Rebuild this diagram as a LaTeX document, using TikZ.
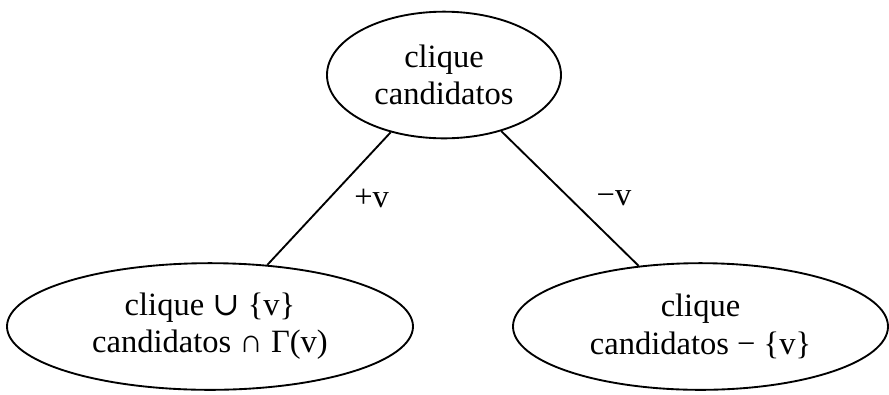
\documentclass[tikz,border=0pt]{standalone}
\usepackage{fontspec}
\setmainfont{Liberation Serif}
\newfontfamily\symfont{DejaVu Serif}
\usepackage{tikz}
\usetikzlibrary{shapes.geometric, positioning}

\begin{document}
\begin{tikzpicture}[
    x=0.75pt, y=-0.75pt,
    every node/.style = {font=\fontsize{24.4}{28}\selectfont},
    base/.style = {
        ellipse, draw, line width=1.4pt, inner sep=0pt,
        text centered, align=center, minimum height=95pt
    },
    root/.style   = {base, minimum width=175.5pt},
    addv/.style   = {base, minimum width=304.5pt},
    dropv/.style  = {base, minimum width=281.25pt},
    edgelabel/.style = {midway, anchor=west},
    link/.style = {line width=1.4pt, black}
]
\useasboundingbox (0,0) rectangle (889,394);
\node[root]  (top)   at (444,75)    {clique\\candidatos};
\node[addv]  (left)  at (210,326.5) {clique {\symfont ∪} \{v\}\\candidatos ∩ Γ(v)};
\node[dropv] (right) at (700.5,326.5) {clique\\candidatos − \{v\}};
\draw[link] (top) -- (left)  node[edgelabel, xshift=15pt] (plus)  {+v};
\draw[link] (top) -- (right) node[edgelabel, xshift=16pt] (minus) {−v};
\end{tikzpicture}
\end{document}
